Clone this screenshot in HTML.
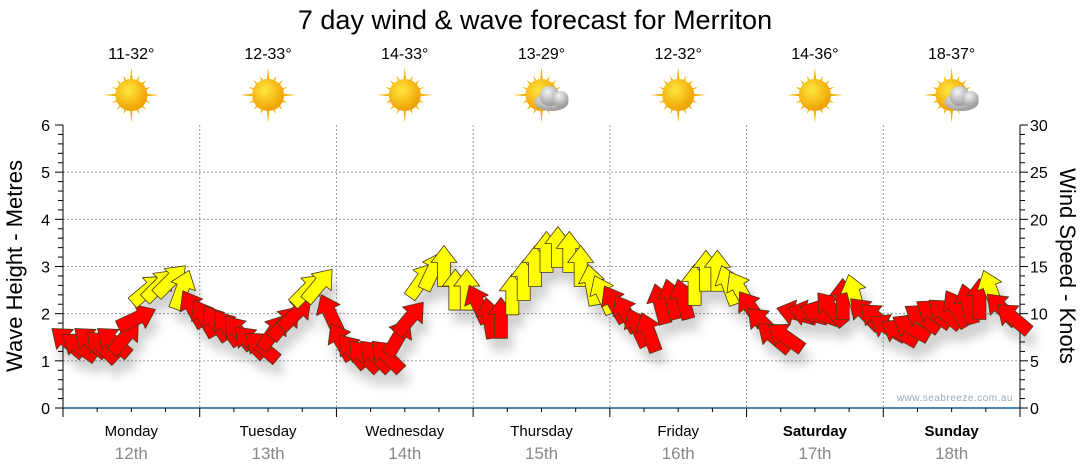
<!DOCTYPE html>
<html><head><meta charset="utf-8"><style>
body{margin:0;background:#fff;}
svg{display:block;font-family:"Liberation Sans",sans-serif;}
</style></head><body>
<svg id="chart" width="1080" height="475" viewBox="0 0 1080 475">
<defs>
<filter id="sh" x="-50%" y="-50%" width="200%" height="200%"><feDropShadow dx="5" dy="12" stdDeviation="5" flood-color="#000" flood-opacity="0.18"/></filter>
<radialGradient id="sun" cx="40%" cy="35%" r="65%"><stop offset="0" stop-color="#ffe640"/><stop offset="1" stop-color="#f0a000"/></radialGradient>
<radialGradient id="cloud" cx="40%" cy="30%" r="70%"><stop offset="0" stop-color="#f4f4f4"/><stop offset="1" stop-color="#9a9a9a"/></radialGradient>
</defs>
<text x="535" y="29" font-size="27" text-anchor="middle" fill="#000">7 day wind &amp; wave forecast for Merriton</text>
<g id="grid"></g>
<g id="axes"></g>
<g id="icons"></g>
<g id="arrows" filter="url(#sh)"></g>
<text x="1013" y="401" font-size="10" text-anchor="end" fill="#9aa8b8" letter-spacing="0.5">www.seabreeze.com.au</text>
<text transform="translate(22,266) rotate(-90)" font-size="22" text-anchor="middle">Wave Height - Metres</text>
<text transform="translate(1060,266) rotate(90)" font-size="22" text-anchor="middle">Wind Speed - Knots</text>
</svg>
<script>
const days = ["Monday","Tuesday","Wednesday","Thursday","Friday","Saturday","Sunday"];
const dates = ["12th","13th","14th","15th","16th","17th","18th"];
const temps = ["11-32°","12-33°","14-33°","13-29°","12-32°","14-36°","18-37°"];
const cloudy = [false,false,false,true,false,false,true];
const waveTicks = [0,1,2,3,4,5,6];
const windTicks = [0,5,10,15,20,25,30];
const windSpeed = [
7,6.5,7,6.5,7,7.5,9.5,12.5,13,13.5,12.5,10.5,
9.5,9,8.5,8,7,6.5,8,9,10,12.5,13,10,
7,6,5.5,5.5,5.5,7.5,9.5,13.5,14.5,15,12.5,12.5,
11,9.5,9.5,12,13.5,15,16.5,17,16.5,15,13,12,
11,10,8.5,8,11,11.5,11.5,13,14.5,14.5,13,12.5,
10.5,9,7.5,7.5,10,10,10,10.5,11.5,12,10,9.5,
8.5,8,8.5,9.5,10,10,10.5,11,11.5,12.5,10.5,9.5];
const windDir = [
-50,-55,-50,-45,-50,40,65,50,45,45,20,-30,
-30,-35,-35,-40,-45,-50,35,40,45,45,40,-25,
-30,-40,-45,-45,-45,30,40,35,25,0,0,0,
-25,-10,0,0,0,0,0,0,0,0,-10,-25,
-30,-30,-25,-20,-15,-15,-15,0,0,0,-20,-30,
-35,-45,-50,-55,-75,-75,-70,-40,0,-15,-45,-50,
-60,-60,-60,-55,-55,-50,-30,-15,0,-20,-45,-50];

const NS="http://www.w3.org/2000/svg";
const X0=63,X1=1020,Y0=408,Y1=125;
const dayW=(X1-X0)/7;
const yWave=v=>Y0-(v/6)*(Y0-Y1);
const yWind=v=>Y0-(v/30)*(Y0-Y1);
const xStep=i=>X0+5+i*(dayW/12);
function mk(tag,attrs,parent,text){const e=document.createElementNS(NS,tag);for(const k in attrs)e.setAttribute(k,attrs[k]);if(text!==undefined)e.textContent=text;parent.appendChild(e);return e;}
const grid=document.getElementById('grid'),axes=document.getElementById('axes'),icons=document.getElementById('icons'),arrows=document.getElementById('arrows');

waveTicks.forEach(v=>{
  if(v>0&&v<6){const l=mk('line',{x1:X0,x2:X1,y1:yWave(v),y2:yWave(v),stroke:'#999','stroke-dasharray':'2,2','stroke-width':1},grid);
  
  }
  const t=mk('text',{x:50,y:yWave(v)+6,'font-size':16,'text-anchor':'end'},axes,String(v));
  
  
});
for(let k=0;k<=30;k++){const y=Y0-k*(Y0-Y1)/30;mk('line',{x1:X0-(k%5==0?8:5),x2:X0,y1:y,y2:y,stroke:'#000'},axes);}
for(let k=0;k<=30;k++){const y=Y0-k*(Y0-Y1)/30;mk('line',{x1:X1,x2:X1+(k%5==0?8:5),y1:y,y2:y,stroke:'#000'},axes);}
windTicks.forEach(v=>{
  const t=mk('text',{x:1030,y:yWind(v)+6,'font-size':16},axes,String(v));
  
  
});
mk('line',{x1:X0,x2:X0,y1:Y1,y2:Y0+8,stroke:'#000'},axes);
mk('line',{x1:X1,x2:X1,y1:Y1,y2:Y0+8,stroke:'#000'},axes);
mk('line',{x1:X0,x2:X1,y1:Y0,y2:Y0,stroke:'#1a5a8a','stroke-width':1.5},axes);
for(let q=0;q<=28;q++){const x=X0+q*dayW/4;mk('line',{x1:x,x2:x,y1:Y0,y2:Y0+(q%4==0?9:4),stroke:'#000'},axes);}
days.forEach((d,i)=>{
  const cx=X0+dayW*(i+0.5);
  if(i>0){const l=mk('line',{x1:X0+dayW*i,x2:X0+dayW*i,y1:Y1,y2:Y0,stroke:'#999','stroke-dasharray':'2,2'},grid);
  
  }
  const t=mk('text',{x:cx,y:436,'font-size':15,'text-anchor':'middle','font-weight':i>=5?'bold':'normal'},axes,d);
  
  
  const t2=mk('text',{x:cx,y:459,'font-size':17,'text-anchor':'middle',fill:'#888'},axes,dates[i]);
  
  
  const t3=mk('text',{x:cx,y:59,'font-size':16,'text-anchor':'middle'},icons,temps[i]);
  
  
  const g=mk('g',{transform:`translate(${cx},95)`},icons);
  
  
  for(let r=0;r<16;r++){const a=r*Math.PI/8,L=r%4==0?28:21;
    mk('polygon',{points:`${Math.cos(a-0.12)*13},${Math.sin(a-0.12)*13} ${Math.cos(a)*L},${Math.sin(a)*L} ${Math.cos(a+0.12)*13},${Math.sin(a+0.12)*13}`,fill:'#f2b400'},g);}
  mk('circle',{cx:0,cy:0,r:16,fill:'url(#sun)'},g);
  if(cloudy[i]){
    mk('ellipse',{cx:10,cy:7,rx:17,ry:9,fill:'url(#cloud)'},g);
    mk('circle',{cx:8,cy:1,r:10,fill:'url(#cloud)'},g);
    mk('circle',{cx:19,cy:4,r:8,fill:'url(#cloud)'},g);
  }
});
windSpeed.forEach((s,i)=>{
  const x=xStep(i),y=yWind(s);
  const p=mk('polygon',{points:'0,-21 13,-4 6.5,-4 6.5,20 -6.5,20 -6.5,-4 -13,-4',
    transform:`translate(${x},${y}) rotate(${windDir[i]})`,
    fill:s>=12?'#ffff00':'#ff0000',stroke:'#4a3a1a','stroke-width':0.8,'stroke-linejoin':'round'},arrows);
  
  
});
</script>
</body></html>
